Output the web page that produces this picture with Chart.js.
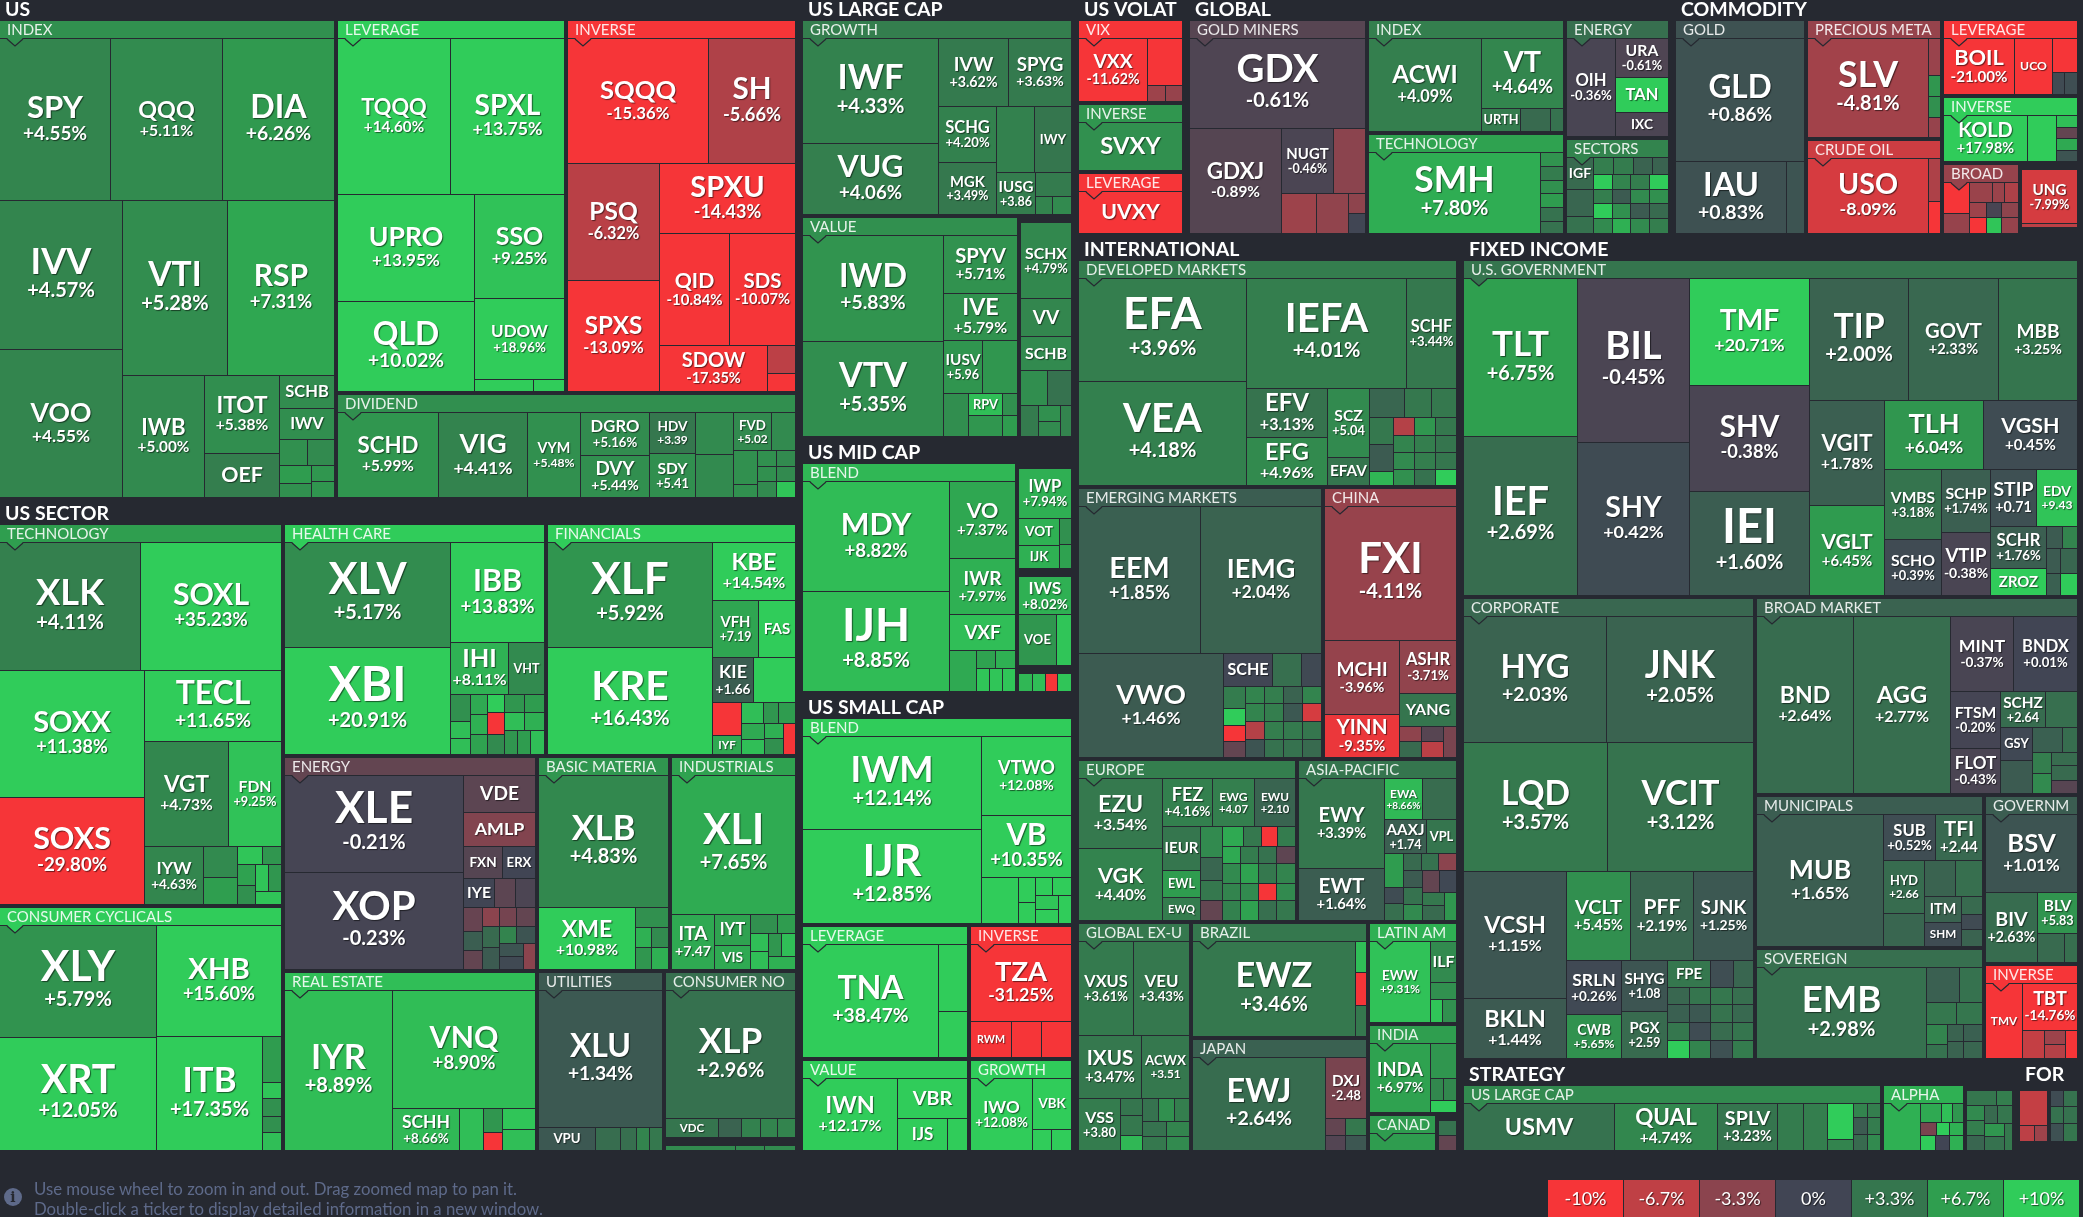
<!DOCTYPE html>
<html>
<head>
<meta charset="utf-8">
<title>ETF map</title>
<script src="https://cdn.jsdelivr.net/npm/chart.js@4/dist/chart.umd.js"></script>
<style>
  html, body { margin: 0; padding: 0; background: #262931; overflow: hidden; }
  #page { position: relative; width: 2083px; height: 1217px; font-family: 'Lato', sans-serif; }
  #map { position: absolute; left: 0; top: 0; }
  #note { position: absolute; left: 34px; top: 1179px; color: #5e6a8a; font-size: 16.75px; line-height: 20px; white-space: nowrap; }
  #info { position: absolute; left: 4px; top: 1188px; width: 18px; height: 18px; border-radius: 50%; background: #5e6a8a; color: #262931; font: bold 14px/18px 'DejaVu Serif', serif; text-align: center; }
  #scale { position: absolute; left: 1548px; top: 1180px; display: flex; gap: 1px; }
  #scale div { width: 75px; height: 37px; line-height: 37px; text-align: center; color: #fff; font-size: 18px; text-shadow: 1px 1px 1px rgba(0,0,0,.6); }
</style>
</head>
<body>
<div id="page">
  <canvas id="map" width="2083" height="1217"></canvas>
  <div id="info">i</div>
  <div id="note">Use mouse wheel to zoom in and out. Drag zoomed map to pan it.<br>Double-click a ticker to display detailed information in a new window.</div>
  <div id="scale"></div>
</div>
<script>
// =========================================
//  DATA
//  weights = cell area, strips = squarify rows
//  (n > 0: n cells in a row on top, n < 0: n cells in a column on the left)
//  '' ticker = cell without a label, null change = empty spot
// =========================================

const scaleValues = [-10, -6.7, -3.3, 0, 3.3, 6.7, 10];
const scaleLabels = ['-10%', '-6.7%', '-3.3%', '0%', '+3.3%', '+6.7%', '+10%'];
const scaleColors = ['#f63538', '#bf4045', '#8b444e', '#414554', '#35764e', '#2f9e4f', '#30cc5a'];

// tickers shown without the change line, or with the change but no percent sign
const tickerOnly = ['TAN','IXC','URTH','IWY','SVXY','UVXY','OEF','VV','SCHB','IWV','VOT','IJK','VOE','VXF','FAS','VHT','AMLP','VDE','FXN','ERX','IYE','IYF','VPU','VDC','VBR','IJS','VBK','RWM','TMV','UCO','RPV','IGF','SCHE','EFAV','IEUR','EWL','EWQ','VPL','ILF','YANG','FPE','ITM','SHM','GSY','ZROZ','USMV','IYT','VIS'];
const noPercent = ['HDV','SDY','FVD','IUSG','IUSV','KIE','VFH','ITA','SCZ','EWG','EWU','ACWX','VSS','AAXJ','EDV','STIP','SHYG','PGX','SCHZ','TFI','HYD','BLV','DXJ'];

// ---- US ----
const usIndexTickers = ['SPY','QQQ','DIA','IVV','VOO','VTI','RSP','IWB','ITOT','OEF','SCHB','IWV','','','','','',''];
const usIndexChanges = [4.55,5.11,6.26,4.57,4.55,5.28,7.31,5.00,5.38,4.0,5.2,5.3,5.5,5,6.5,5.5,6,6];
const usIndexWeights = [180,181,181,183,181,183,186,100,58.5,33,18,17,7.3,7,5.6,4.3,3.6,3.8];
const usIndexStrips = [3,-2,2,-1,-2,1,1,2,-2,-2];

const usLeverageTickers = ['TQQQ','SPXL','UPRO','QLD','SSO','UDOW','',''];
const usLeverageChanges = [14.60,13.75,13.95,10.02,9.25,18.96,10,10];
const usLeverageWeights = [176,179,146,124,93,73,7,3.8];
const usLeverageStrips = [2,-2,1,1,-1,-1];

const usInverseTickers = ['SQQQ','SH','PSQ','SPXS','SPXU','QID','SDS','SDOW','',''];
const usInverseChanges = [-15.36,-5.66,-6.32,-13.09,-14.43,-10.84,-10.07,-17.35,-6.5,-12];
const usInverseWeights = [175,108,106.5,101,95,78.4,74,49.7,7.8,5];
const usInverseStrips = [2,-2,1,2,-1,1,1];

const usDividendTickers = ['SCHD','VIG','VYM','DGRO','DVY','HDV','SDY','','','FVD','','','','','','','','',''];
const usDividendChanges = [5.99,4.41,5.48,5.16,5.44,3.39,5.41,5,5,5.02,5,5.5,5.5,5.5,5.5,5,5,5,9.5];
const usDividendWeights = [84.8,74,44.5,29,28,19,20,15.6,16.3,14.4,8.9,7.8,3,2.9,2.9,2.9,2.9,2.9,2.9];
const usDividendStrips = [-1,-1,-1,-2,-2,-2,2,-2,-3,-3];

// ---- US SECTOR ----
const techTickers = ['XLK','SOXL','SOXX','SOXS','TECL','VGT','FDN','IYW','','','','','','','','',''];
const techChanges = [4.11,35.23,11.38,-29.80,11.65,4.73,9.25,4.63,5,6.7,9.5,6,7,5.5,9.5,6,9.5];
const techWeights = [179,179,183,153,96.6,88,55,34,10.5,9.2,4.5,3.6,3.8,3.4,3.4,3.6,3.5];
const techStrips = [2,-2,1,2,-1,-2,2,-2,2,1];

const cyclicalTickers = ['XLY','XRT','XHB','ITB','','','','',''];
const cyclicalChanges = [5.79,12.05,15.60,17.35,6.5,9.5,5.5,5.5,9];
const cyclicalWeights = [176,176,137.5,120,9,3.2,3.4,3.2,3.4];
const cyclicalStrips = [-2,1,-1,-5];

const healthTickers = ['XLV','XBI','IBB','IHI','VHT','','','','','','','','','','','','','',''];
const healthChanges = [5.17,20.91,13.83,8.11,5,5.5,9,9,7.5,8,7,10,-12,5,6,6.5,9,8,6,6.5,9];
const healthWeights = [172.7,174.4,93.5,29.6,18.6,5.4,3.6,3.2,3.4,3.4,3.4,3.1,3.6,3.4,3.6,3.6,3.4,3.4,3.1,3.1,3.4];
const healthStrips = [-2,1,2,-3,-3,-3,2,2,3];

const financeTickers = ['XLF','KRE','KBE','VFH','FAS','KIE','','','IYF','','','','','','','',''];
const financeChanges = [5.92,16.43,14.54,7.19,12,1.66,10,-12,7.5,9,6,6.5,7.5,9,8,5.5,-12];
const financeWeights = [172,174,48,26,20.4,18.5,18.5,9.5,5.3,4.6,3.2,3.6,3.5,3.5,2.8,3.2,3.6];
const financeStrips = [-2,1,2,2,-2,3,-2,-2,-1];

const sectorEnergyTickers = ['XLE','XOP','VDE','AMLP','FXN','ERX','IYE'];
const sectorEnergyChanges = [-0.21,-0.23,-1.2,-2.9,-0.9,0,0,-1.2,-0.5,-1.7,1.7,-1.5,-3.3,2.5,1.5,-2.3,-1.5,4.5,1,1,0.3,-3.3];
const sectorEnergyWeights = [172,172,26.6,23.8,12.5,10.6,8.7,5.9,5.6,4.3,3.6,3.4,3.2,3.7,3.7,3.2,3.6,3,3.2,3.1,3.1,3.1];
const sectorEnergyStrips = [-2,1,1,2,3,-3,-3,2,2,-2,-1];

const materialsTickers = ['XLB','XME'];
const materialsChanges = [4.83,10.98,5.5,8,5,6,8];
const materialsWeights = [170,59.5,6.5,3.2,3.4,3.4,3.6];
const materialsStrips = [1,-1,1,2,2];

const industrialsTickers = ['XLI','ITA','IYT','VIS'];
const industrialsChanges = [7.65,7.47,7,7.5,5.5,6.5,9,9,6,9,8];
const industrialsWeights = [170,23.5,10.9,8.7,5,3.4,3.2,3.2,2.9,3.3,3.4];
const industrialsStrips = [1,-1,-2,2,-2,2,1];

const realEstateTickers = ['IYR','VNQ','SCHH'];
const realEstateChanges = [8.89,8.90,8.66,9,6,-12,9.5,9];
const realEstateWeights = [170,166.7,27.5,10,4.4,3.4,6.7,6.7];
const realEstateStrips = [-1,1,-1,-1,-2,-2];

const utilitiesTickers = ['XLU','VPU'];
const utilitiesChanges = [1.34,1.3,2.7,2.8,4.5,3.5];
const utilitiesWeights = [168.6,12.9,5.8,3.5,3,3];
const utilitiesStrips = [1,5];

const staplesTickers = ['XLP','VDC'];
const staplesChanges = [2.96,3.2,2,4.2,4.5,4.5];
const staplesWeights = [165,9.9,4.2,3.6,3.2,3.4];
const staplesStrips = [1,5];

const commTickers = [];
const commChanges = [5,5,5];
const commWeights = [3.4,1.4,1.5];
const commStrips = [3];

// ---- US LARGE CAP ----
const growthTickers = ['IWF','VUG','IVW','SPYG','SCHG','MGK','','IWY','IUSG'];
const growthChanges = [4.33,4.06,3.62,3.63,4.20,3.49,4.2,3.3,3.86,3.7,4.5,5];
const growthWeights = [142.8,96.6,46.9,42.9,33,30,25,24.4,16.2,8.6,3.2,3.5];
const growthStrips = [-2,2,-2,2,-1,1,2];

const valueTickers = ['IWD','VTV','SPYV','IVE','IUSV','','','RPV'];
const valueChanges = [5.83,5.35,5.71,5.79,5.96,6,5.3,9,5.5,6,6.5];
const valueWeights = [149.5,134,42.8,35,21,18.8,10.8,7.5,3.3,7.1,3.2];
const valueStrips = [-2,1,1,2,-1,2,2];

const largeBlendTickers = ['SCHX','VV','SCHB'];
const largeBlendChanges = [4.79,4.7,5,5.3,3,3.7,5.5,5,4.5];
const largeBlendWeights = [37.5,19,16.5,9.1,8.4,5.3,3.3,3.3,3.4];
const largeBlendStrips = [1,1,1,2,-1,-2,-1];

// ---- US MID CAP ----
const midBlendTickers = ['MDY','IJH','VO','IWR','VXF'];
const midBlendChanges = [8.82,8.85,7.37,7.97,9,7.5,7,8,9.5,9.5,9.5];
const midBlendWeights = [161.7,147,50.8,37,23.8,10.7,3.4,3.4,3.1,3.1,3.1];
const midBlendStrips = [-2,1,1,1,-1,2,3];

const midSideATickers = ['IWP','VOT','IJK'];
const midSideAChanges = [7.94,8,8,5.5,7];
const midSideAWeights = [25.5,10.8,9.2,3.2,2.8];
const midSideAStrips = [1,-2,-2];

const midSideBTickers = ['IWS','VOE'];
const midSideBChanges = [8.02,6,9.5];
const midSideBWeights = [19.8,18.5,7.5];
const midSideBStrips = [1,-1,-1];

const midSideCTickers = [];
const midSideCChanges = [8.5,9,-12,9.5];
const midSideCWeights = [2.2,2,2,2.2];
const midSideCStrips = [4];

// ---- US SMALL CAP ----
const smallBlendTickers = ['IWM','IJR','VTWO','VB'];
const smallBlendChanges = [12.14,12.85,12.08,10.35,11,11,11,10,10.5,9.5,10,10];
const smallBlendWeights = [166.5,168,71.9,55.5,17.5,4.2,3.4,3.2,3.4,3.2,3.4,3.6];
const smallBlendStrips = [-2,1,1,-1,-2,2,-2,-1];

const smallLeverageTickers = ['TNA'];
const smallLeverageChanges = [38.47,10,10];
const smallLeverageWeights = [153.7,19.4,13.3];
const smallLeverageStrips = [-1,-2];

const smallInverseTickers = ['TZA','RWM'];
const smallInverseChanges = [-31.25,-13,-13,-13];
const smallInverseWeights = [77,14.8,10.8,10.8];
const smallInverseStrips = [1,3];

const smallValueTickers = ['IWN','VBR','IJS'];
const smallValueChanges = [12.17,11.5,12,11];
const smallValueWeights = [67.5,27.7,16,6.7];
const smallValueStrips = [-1,1,2];

const smallGrowthTickers = ['IWO','VBK'];
const smallGrowthChanges = [12.08,11.5,11,11];
const smallGrowthWeights = [43.3,19.5,4,4.2];
const smallGrowthStrips = [-1,1,2];

// ---- US VOLAT ----
const vixTickers = ['VXX'];
const vixChanges = [-11.62,-11,-4.5,-4];
const vixWeights = [44,16.5,2.8,2.8];
const vixStrips = [-1,1,2];

const volInverseTickers = ['SVXY'];
const volInverseChanges = [5.5];
const volInverseWeights = [1];
const volInverseStrips = [1];

const volLeverageTickers = ['UVXY'];
const volLeverageChanges = [-20];
const volLeverageWeights = [1];
const volLeverageStrips = [1];

// ---- GLOBAL ----
const goldMinersTickers = ['GDX','GDXJ','NUGT'];
const goldMinersChanges = [-0.61,-0.89,-0.46,-3.3,-4.5,-3.7,-3.5,0.1];
const goldMinersWeights = [158,95.5,33.3,21,14,13.2,3.4,3.4];
const goldMinersStrips = [1,-1,2,-1,-1,-2];

const globalIndexTickers = ['ACWI','VT','URTH'];
const globalIndexChanges = [4.09,4.64,3.8,2.5,3];
const globalIndexWeights = [104,57.3,9.2,6.9,3];
const globalIndexStrips = [-1,1,-1,-1,-1];

const globalTechTickers = ['SMH'];
const globalTechChanges = [7.80,5.8,3.8,5.5,6.5,3,3];
const globalTechWeights = [138.5,3.2,3.1,3,3.2,3.2,2.6];
const globalTechStrips = [-1,-6];

const globalEnergyTickers = ['OIH','URA','TAN','IXC'];
const globalEnergyChanges = [-0.36,-0.61,10.5,-0.5];
const globalEnergyWeights = [47.5,20.7,18,12.7];
const globalEnergyStrips = [-1,-3];

const globalSectorsTickers = ['IGF'];
const globalSectorsChanges = [2.5,2.2,3,4,3.8,2,2,10,4,10,5,4.5,1.5,5.5,8,4,5,1.5,5,11,5.5,2.5,4];
const globalSectorsWeights = [8.6,7.3,4.6,3.4,3.2,3.2,2.7,2.8,2.8,2.8,2.8,2.7,2.7,2.7,2.7,2.8,2.8,2.8,2.8,2.7,2.7,2.7,2.7];
const globalSectorsStrips = [-3,4,-4,-4,-4,-4];

// ---- COMMODITY ----
const goldTickers = ['GLD','IAU'];
const goldChanges = [0.86,0.83,1];
const goldWeights = [157.4,79,13];
const goldStrips = [1,-1,-1];

const preciousTickers = ['SLV'];
const preciousChanges = [-4.81,-4.2,6,5.5,-4];
const preciousWeights = [118,4.4,2.5,2.5,2.4];
const preciousStrips = [-1,-4];

const crudeTickers = ['USO'];
const crudeChanges = [-8.09,-5.5,-11];
const crudeWeights = [89,5.2,3.8];
const crudeStrips = [-1,-2];

const commLeverageTickers = ['BOIL','UCO'];
const commLeverageChanges = [-21.00,-14,-13,0.4,0.6];
const commLeverageWeights = [39,20.9,8.2,2.6,2.9];
const commLeverageStrips = [-1,-1,1,2];

const commInverseTickers = ['KOLD'];
const commInverseChanges = [17.98,10.5,9,-1.5,7.5,1];
const commInverseWeights = [39.5,13.2,2.5,2.5,2.5,2.5];
const commInverseStrips = [-1,-1,-4];

const broadCommTickers = [];
const broadCommChanges = [-12,-4,-4.3,-4.3,-5.5,-4.5,-0.3,-3.5,-12,9.5,-4];
const broadCommWeights = [8.3,5.2,4.4,2.4,2.8,2.6,2.4,2.6,2.6,2.4,2.6];
const broadCommStrips = [-2,3,3,3];

const ungTickers = ['UNG'];
const ungChanges = [-7.99,-6.5,null];
const ungWeights = [29,2.2,3.3];
const ungStrips = [1,1,1];

// ---- INTERNATIONAL ----
const developedTickers = ['EFA','VEA','IEFA','SCHF','EFV','EFG','SCZ','EFAV'];
const developedChanges = [3.96,4.18,4.01,3.44,3.13,4.96,5.04,3.2,2.2,3.5,3.5,3.5,1.5,8.5,-6,4.5,5,5.5,6,4,4,3,3.5,3.2,3.3,10];
const developedWeights = [173,174.7,175.5,54.5,39.7,38.9,29,11.8,10.5,7.8,7.5,6.5,6.5,3.4,3.8,3.4,3.6,3.4,3.8,3.4,3.6,3.4,3.8,3.4,3.6,3.4];
const developedStrips = [-2,2,-2,-2,3,-3,-4,-4,-4];

const emergingTickers = ['EEM','IEMG','VWO','SCHE'];
const emergingChanges = [1.85,2.04,1.46,0.1,2.8,0.3,3.8,10.5,-10,-1.5,4.5,4.5,-6,1,4,4,4,3,2,1.3,3.6,3,4.5,-8,3.3,2.5];
const emergingWeights = [178,178,150,16,9.6,6.7,5,3.7,3.7,3.5,3.4,3.4,3.4,3.4,3.4,3.4,3.4,3.4,3.4,3.4,3.4,3.4,3.4,3.4,3.4,3.4];
const emergingStrips = [2,-1,3,-4,-4,-4,-4,-4];

const chinaTickers = ['FXI','MCHI','YINN','ASHR','YANG'];
const chinaChanges = [-4.11,-3.96,-9.35,-3.71,3.2,-3.5,2.5,-1,-6.5,-2.5];
const chinaWeights = [177,55.5,32,30.7,19,3.3,3.5,3.3,3.5,4];
const chinaStrips = [1,-2,1,1,-2,-2,-1];

const europeTickers = ['EZU','VGK','FEZ','EWG','EWU','IEUR','EWL','EWQ'];
const europeChanges = [3.54,4.40,4.16,4.07,2.10,3.3,6.5,3.8,5,2.2,3.5,-1.5,7.5,3.5,-11,3.8,7.5,5,4.5,4.2,3.8,7,5,7,3,3.5,-11,2.8,-1.3,4.5,5,3.5];
const europeWeights = [58.8,61.3,24,20,19.7,16.6,10,8.5,6.8,5.3,4.4,4.4,4.2,3.6,3.2,3.6,3.1,3.6,3.2,3.6,3.1,3.6,3.2,3.6,3.1,3.6,3.2,3.6,3.1,3.6,3.2,3.6];
const europeStrips = [-2,3,-3,-4,4,-4,-4,-4,-4];

const asiaTickers = ['EWY','EWT','EWA','','AAXJ','VPL'];
const asiaChanges = [3.39,1.64,8.66,2.6,1.74,3.2,6.5,0.5,2.8,2.5,3,-3.3,1.5,3,5,-1.5,0.2,3.5,2.5,6];
const asiaWeights = [77.4,44.2,15.2,14,13.9,10.2,6.5,3,3.2,3.1,2.9,3.1,3,3.2,2.9,3.6,3.6,3,3.2,3.4];
const asiaStrips = [-2,2,2,-3,3,-3,2,-2,-1];

const globalExTickers = ['VXUS','VEU','IXUS','ACWX','VSS'];
const globalExChanges = [3.61,3.43,3.47,3.51,3.80,3.2,3.5,8.5,3,5.5,4,3,4.5,3.5,5];
const globalExWeights = [51,52,39.7,30,21.8,3.7,4.4,3.3,3.5,3.5,3.3,3.6,3.4,3.3,3.2];
const globalExStrips = [2,2,-1,-3,3,2,2];

const brazilTickers = ['EWZ'];
const brazilChanges = [3.46,9,-11,3.5];
const brazilWeights = [154,3.4,3.5,3.4];
const brazilStrips = [-1,-3];

const japanTickers = ['EWJ','DXJ'];
const japanChanges = [2.64,-2.48,-1.5,3.5,-0.8,1.2];
const japanWeights = [123,24.6,3.4,3.6,3,3.2];
const japanStrips = [-1,1,2,2];

const latinTickers = ['EWW','ILF'];
const latinChanges = [9.31,5,5.5,9.5,5.5];
const latinWeights = [49.4,10.4,4.4,2.8,3.2];
const latinStrips = [-1,1,1,2];

const indiaTickers = ['INDA'];
const indiaChanges = [6.97,6,4.8,4.8,10];
const indiaWeights = [42.7,9.1,3,3,3.1];
const indiaStrips = [-1,1,2,1];

const canadaTickers = [];
const canadaChanges = [6.5];
const canadaWeights = [1];
const canadaStrips = [1];

const intlSideTickers = [];
const intlSideChanges = [3,-1.5];
const intlSideWeights = [1,1];
const intlSideStrips = [-2];

// ---- FIXED INCOME ----
const govTickers = ['TLT','IEF','BIL','SHY','TMF','SHV','IEI','TIP','GOVT','MBB','VGIT','VGLT','TLH','VGSH','VMBS','SCHO','SCHP','VTIP','STIP','EDV','SCHR','ZROZ'];
const govChanges = [6.75,2.69,-0.45,0.42,20.71,-0.38,1.60,2.00,2.33,3.25,1.78,6.45,6.04,0.45,3.18,0.39,1.74,-0.38,0.71,9.43,1.76,10,1.5,4.5,1.5,2.2,1.8,10];
const govWeights = [180,181,183.7,171,128,127,125,120,110,96.4,77.7,66.6,68,65,40,32,31,31,26,23.4,23,14.8,3.6,3.2,3.6,4.1,3.3,3.7];
const govStrips = [-2,-2,-3,3,-2,2,-2,-2,2,-2,2,2,2];

const corporateTickers = ['HYG','JNK','LQD','VCIT','VCSH','BKLN','VCLT','PFF','SJNK','SRLN','CWB','SHYG','PGX','FPE'];
const corporateChanges = [2.03,2.05,3.57,3.12,1.15,1.44,5.45,2.19,1.25,0.26,5.65,1.08,2.59,3.4,0.6,2.2,2.3,1.8,3.4,10.5,3.2,1.3,0.5,4.5,3.4,3.1,2.6,0.8,2.8,2.4,3.2,3.8];
const corporateWeights = [180,184,184.5,188,131,62,56.7,55.8,54,29,24,23.5,22,11.3,6,5.4,3.8,3.8,3.8,3.8,3.8,3.8,3.8,3.8,3.8,3.8,3.8,3.8,3.8,3.8,3.8,3.8];
const corporateStrips = [2,2,-2,3,-2,-2,3,-4,-4,-4,-4];

const broadMarketTickers = ['BND','AGG','MINT','BNDX','FTSM','FLOT','SCHZ','','GSY'];
const broadMarketChanges = [2.64,2.77,-0.37,0.01,-0.20,-0.43,2.64,2.8,0.2,1.5,1.8,2.7,4,5,2.6,2.5,-1];
const broadMarketWeights = [171.7,171.7,47,48,28.5,22.5,16,11.5,10.6,10.6,7.5,3.8,3.8,3.6,3.5,3.8,3.5];
const broadMarketStrips = [-1,-1,2,-2,2,-2,2,-2,-3];

const muniTickers = ['MUB','SUB','TFI','HYD','','','','ITM','SHM'];
const muniChanges = [1.65,0.52,2.44,2.66,2.2,2,2.8,2,0.5,2.5,0.4,2];
const muniWeights = [166,24,21.6,21.3,13.5,11.2,9.7,9.3,8.9,3.6,3.2,3.6];
const muniStrips = [-1,2,-2,2,-2,-3];

const sovereignTickers = ['EMB'];
const sovereignChanges = [2.98,1.8,3,3.4,3.3,4.5,3,2,1.8,2,2.2];
const sovereignWeights = [153,11.5,8,6.3,5.5,4.2,2.8,2.7,3.2,2.7,3.2];
const sovereignStrips = [-1,2,2,-2,2,2];

const governmentTickers = ['BSV','BIV','BLV'];
const governmentChanges = [1.01,2.63,5.83,2.5,2.8];
const governmentWeights = [71.8,36.9,16.8,7.8,3.8];
const governmentStrips = [1,-1,1,2];

const bondInverseTickers = ['TMV','TBT'];
const bondInverseChanges = [-13,-14.76,-7,-4.5,-6,-10];
const bondInverseWeights = [27.4,25.3,6.2,2.9,2.9,3.4];
const bondInverseStrips = [-1,1,-1,-2,-1];

// ---- STRATEGY ----
const strategyLargeTickers = ['USMV','QUAL','SPLV'];
const strategyLargeChanges = [3,4.74,3.23,3.8,4,10.5,4.5,4.5,4,1.5,3.8,2.5,5];
const strategyLargeWeights = [70.5,48.4,28.2,12.2,11.3,9.1,2.9,2,1.8,2.4,2.2,2.2,2.1];
const strategyLargeStrips = [-1,-1,-1,-1,-1,-2,2,2,2];

const alphaTickers = [];
const alphaChanges = [8,7.5,9,6,-2.5,10,8,10,0,8];
const alphaWeights = [17,4,1.9,2.1,2,1.7,1.8,2.2,2,2.1];
const alphaStrips = [-1,3,3,3];

const strategySideTickers = [];
const strategySideChanges = [3.3,4,5,4,2.2,2.5,3.3,6,3,3.5];
const strategySideWeights = [4.4,2.4,2.4,2.6,2.6,2.2,2.4,2.6,2.6,2];
const strategySideStrips = [2,-3,2,-2,-1];

// ---- FOR ----
const forLeftTickers = [];
const forLeftChanges = [-7,-6.5,-4.5,null];
const forLeftWeights = [9.5,2.4,2.1,2.5];
const forLeftStrips = [1,2,1];

const forRightTickers = [];
const forRightChanges = [0.5,3,3,3,0.8,3.3,null];
const forRightWeights = [2.1,2.1,2.1,2.1,2.3,2.3,2.4];
const forRightStrips = [2,2,2,1];

// ---- GROUPS: title, header change, then the four lists ----
const group = (title, change, tickers, changes, weights, strips) => ({ title, change, tickers, changes, weights, strips });

const usGroups = [
  group('INDEX', 5.5, usIndexTickers, usIndexChanges, usIndexWeights, usIndexStrips),
  group('LEVERAGE', 12, usLeverageTickers, usLeverageChanges, usLeverageWeights, usLeverageStrips),
  group('INVERSE', -10, usInverseTickers, usInverseChanges, usInverseWeights, usInverseStrips),
  group('DIVIDEND', 5.4, usDividendTickers, usDividendChanges, usDividendWeights, usDividendStrips),
];
const usWeights = [1622, 862, 862, 489];
const usStrips = [-1, 2, 1];

const sectorGroups = [
  group('TECHNOLOGY', 6.7, techTickers, techChanges, techWeights, techStrips),
  group('CONSUMER CYCLICALS', 10, cyclicalTickers, cyclicalChanges, cyclicalWeights, cyclicalStrips),
  group('HEALTH CARE', 11, healthTickers, healthChanges, healthWeights, healthStrips),
  group('FINANCIALS', 12, financeTickers, financeChanges, financeWeights, financeStrips),
  group('ENERGY', -1.5, sectorEnergyTickers, sectorEnergyChanges, sectorEnergyWeights, sectorEnergyStrips),
  group('BASIC MATERIA', 6, materialsTickers, materialsChanges, materialsWeights, materialsStrips),
  group('INDUSTRIALS', 7, industrialsTickers, industrialsChanges, industrialsWeights, industrialsStrips),
  group('REAL ESTATE', 9, realEstateTickers, realEstateChanges, realEstateWeights, realEstateStrips),
  group('UTILITIES', 1.4, utilitiesTickers, utilitiesChanges, utilitiesWeights, utilitiesStrips),
  group('CONSUMER NO', 2.8, staplesTickers, staplesChanges, staplesWeights, staplesStrips),
  group('', 5, commTickers, commChanges, commWeights, commStrips),
];
const sectorWeights = [1093, 702, 612, 585, 545, 286, 273, 459, 230, 223, 17.3];
const sectorStrips = [-2, 2, 3, -1, -1, 1, 1];

const largeGroups = [
  group('GROWTH', 4, growthTickers, growthChanges, growthWeights, growthStrips),
  group('VALUE', 5.5, valueTickers, valueChanges, valueWeights, valueStrips),
  group('', 4.7, largeBlendTickers, largeBlendChanges, largeBlendWeights, largeBlendStrips),
];
const largeWeights = [538, 486, 120];
const largeStrips = [1, -1, -1];

const midGroups = [
  group('BLEND', 8.5, midBlendTickers, midBlendChanges, midBlendWeights, midBlendStrips),
  group('', 8, midSideATickers, midSideAChanges, midSideAWeights, midSideAStrips),
  group('', 8, midSideBTickers, midSideBChanges, midSideBWeights, midSideBStrips),
  group('', 8, midSideCTickers, midSideCChanges, midSideCWeights, midSideCStrips),
];
const midWeights = [501, 60.5, 54.3, 14.6];
const midStrips = [-1, 1, 1, 1];

const smallGroups = [
  group('BLEND', 12, smallBlendTickers, smallBlendChanges, smallBlendWeights, smallBlendStrips),
  group('LEVERAGE', 12, smallLeverageTickers, smallLeverageChanges, smallLeverageWeights, smallLeverageStrips),
  group('INVERSE', -14, smallInverseTickers, smallInverseChanges, smallInverseWeights, smallInverseStrips),
  group('VALUE', 12, smallValueTickers, smallValueChanges, smallValueWeights, smallValueStrips),
  group('GROWTH', 12, smallGrowthTickers, smallGrowthChanges, smallGrowthWeights, smallGrowthStrips),
];
const smallWeights = [568, 226.5, 139.4, 157, 96.7];
const smallStrips = [1, 2, 2];

const volGroups = [
  group('VIX', -11, vixTickers, vixChanges, vixWeights, vixStrips),
  group('INVERSE', 6, volInverseTickers, volInverseChanges, volInverseWeights, volInverseStrips),
  group('LEVERAGE', -15, volLeverageTickers, volLeverageChanges, volLeverageWeights, volLeverageStrips),
];
const volWeights = [90, 74, 67.4];
const volStrips = [1, 1, 1];

const globalGroups = [
  group('GOLD MINERS', -1, goldMinersTickers, goldMinersChanges, goldMinersWeights, goldMinersStrips),
  group('INDEX', 4.1, globalIndexTickers, globalIndexChanges, globalIndexWeights, globalIndexStrips),
  group('TECHNOLOGY', 7, globalTechTickers, globalTechChanges, globalTechWeights, globalTechStrips),
  group('ENERGY', 2.8, globalEnergyTickers, globalEnergyChanges, globalEnergyWeights, globalEnergyStrips),
  group('SECTORS', 4.5, globalSectorsTickers, globalSectorsChanges, globalSectorsWeights, globalSectorsStrips),
];
const globalWeights = [389, 226, 202, 125, 102];
const globalStrips = [-1, -2, -2];

const commodityGroups = [
  group('GOLD', 0.9, goldTickers, goldChanges, goldWeights, goldStrips),
  group('PRECIOUS META', -4, preciousTickers, preciousChanges, preciousWeights, preciousStrips),
  group('CRUDE OIL', -7.5, crudeTickers, crudeChanges, crudeWeights, crudeStrips),
  group('LEVERAGE', -13, commLeverageTickers, commLeverageChanges, commLeverageWeights, commLeverageStrips),
  group('INVERSE', 11, commInverseTickers, commInverseChanges, commInverseWeights, commInverseStrips),
  group('BROAD', -4, broadCommTickers, broadCommChanges, broadCommWeights, broadCommStrips),
  group('', -6, ungTickers, ungChanges, ungWeights, ungStrips),
];
const commodityWeights = [285, 163, 130.6, 105.5, 91.8, 56, 42.5];
const commodityStrips = [-1, -2, 1, 1, 2];

const intlGroups = [
  group('DEVELOPED MARKETS', 3.9, developedTickers, developedChanges, developedWeights, developedStrips),
  group('EMERGING MARKETS', 1.6, emergingTickers, emergingChanges, emergingWeights, emergingStrips),
  group('CHINA', -4, chinaTickers, chinaChanges, chinaWeights, chinaStrips),
  group('EUROPE', 4, europeTickers, europeChanges, europeWeights, europeStrips),
  group('ASIA-PACIFIC', 3.2, asiaTickers, asiaChanges, asiaWeights, asiaStrips),
  group('GLOBAL EX-U', 3.5, globalExTickers, globalExChanges, globalExWeights, globalExStrips),
  group('BRAZIL', 3.5, brazilTickers, brazilChanges, brazilWeights, brazilStrips),
  group('JAPAN', 1.9, japanTickers, japanChanges, japanWeights, japanStrips),
  group('LATIN AM', 8, latinTickers, latinChanges, latinWeights, latinStrips),
  group('INDIA', 6.7, indiaTickers, indiaChanges, indiaWeights, indiaStrips),
  group('CANAD', 6.5, canadaTickers, canadaChanges, canadaWeights, canadaStrips),
  group('', 2, intlSideTickers, intlSideChanges, intlSideWeights, intlSideStrips),
];
const intlWeights = [871, 672, 367, 359, 264, 262, 206.5, 203, 92, 81, 26, 8];
const intlStrips = [1, 2, 2, -1, -2, 1, 1, 2];

const fixedGroups = [
  group('U.S. GOVERNMENT', 3.2, govTickers, govChanges, govWeights, govStrips),
  group('CORPORATE', 2.3, corporateTickers, corporateChanges, corporateWeights, corporateStrips),
  group('BROAD MARKET', 2, broadMarketTickers, broadMarketChanges, broadMarketWeights, broadMarketStrips),
  group('MUNICIPALS', 1.6, muniTickers, muniChanges, muniWeights, muniStrips),
  group('SOVEREIGN', 2.8, sovereignTickers, sovereignChanges, sovereignWeights, sovereignStrips),
  group('GOVERNM', 1.6, governmentTickers, governmentChanges, governmentWeights, governmentStrips),
  group('INVERSE', -12, bondInverseTickers, bondInverseChanges, bondInverseWeights, bondInverseStrips),
];
const fixedWeights = [2085, 1357, 641.5, 350, 256.5, 160.5, 91];
const fixedStrips = [1, -1, 1, -2, -2];

const strategyGroups = [
  group('US LARGE CAP', 5, strategyLargeTickers, strategyLargeChanges, strategyLargeWeights, strategyLargeStrips),
  group('ALPHA', 8, alphaTickers, alphaChanges, alphaWeights, alphaStrips),
  group('', 4, strategySideTickers, strategySideChanges, strategySideWeights, strategySideStrips),
];
const strategyWeights = [285.6, 56.4, 33.3];
const strategyStrips = [-1, -1, -1];

const forGroups = [
  group('', -6, forLeftTickers, forLeftChanges, forLeftWeights, forLeftStrips),
  group('', 2, forRightTickers, forRightChanges, forRightWeights, forRightStrips),
];
const forWeights = [21, 20.4];
const forStrips = [-1, -1];

// ---- TOP LEVEL ----
const categoryTitles = ['US', 'US SECTOR', 'US LARGE CAP', 'US MID CAP', 'US SMALL CAP', 'US VOLAT', 'GLOBAL', 'COMMODITY', 'INTERNATIONAL', 'FIXED INCOME', 'STRATEGY', 'FOR'];
const categoryWeights = [4047, 5244, 1223, 704, 1267, 266, 1166, 982, 3530, 5123, 512, 60];
const categoryStrips = [-2, -3, 3, -1, 1, -1, -1];
const categoryGroups = [usGroups, sectorGroups, largeGroups, midGroups, smallGroups, volGroups, globalGroups, commodityGroups, intlGroups, fixedGroups, strategyGroups, forGroups];
const categoryGroupWeights = [usWeights, sectorWeights, largeWeights, midWeights, smallWeights, volWeights, globalWeights, commodityWeights, intlWeights, fixedWeights, strategyWeights, forWeights];
const categoryGroupStrips = [usStrips, sectorStrips, largeStrips, midStrips, smallStrips, volStrips, globalStrips, commodityStrips, intlStrips, fixedStrips, strategyStrips, forStrips];

// =========================================
//  LAYOUT (map units, the chart scales turn them into pixels)
// =========================================
const CATEGORY_HEADER = 24;
const CATEGORY_PAD = 4;
const GROUP_HEADER = 18;
const GROUP_STUB = 5;
const GROUP_GAP = 4;

function layoutStrips(rect, weights, strips) {
  const out = [];
  let { x, y, w, h } = rect;
  let total = weights.reduce((a, b) => a + b, 0);
  let i = 0;
  for (const strip of strips) {
    const part = weights.slice(i, i + Math.abs(strip));
    const sum = part.reduce((a, b) => a + b, 0);
    if (strip > 0) {
      const rowH = h * sum / total;
      let cx = x;
      part.forEach(v => { const cw = w * v / sum; out.push({ x: cx, y, w: cw, h: rowH }); cx += cw; });
      y += rowH; h -= rowH;
    } else {
      const colW = w * sum / total;
      let cy = y;
      part.forEach(v => { const ch = h * v / sum; out.push({ x, y: cy, w: colW, h: ch }); cy += ch; });
      x += colW; w -= colW;
    }
    total -= sum;
    i += part.length;
  }
  return out;
}

const cellPoints = [];
const headerPoints = [];
const titlePoints = [];
const span = (r, extra) => ({ x: r.x, y: r.y, x2: r.x + r.w, y2: r.y + r.h, ...extra });

layoutStrips({ x: 0, y: -3, w: 2085, h: 1157 }, categoryWeights, categoryStrips).forEach((catRect, c) => {
  titlePoints.push(span(catRect, { title: categoryTitles[c] }));
  const inner = { x: catRect.x, y: catRect.y + CATEGORY_HEADER, w: catRect.w - CATEGORY_PAD, h: catRect.h - CATEGORY_HEADER };
  layoutStrips(inner, categoryGroupWeights[c], categoryGroupStrips[c]).forEach((r, g) => {
    const grp = categoryGroups[c][g];
    const top = grp.title ? GROUP_HEADER : GROUP_STUB;
    const body = { x: r.x, y: r.y + top, w: r.w - GROUP_GAP + 1, h: r.h - top - GROUP_GAP + 1 };
    if (grp.title) headerPoints.push(span({ x: r.x, y: r.y, w: r.w - GROUP_GAP, h: GROUP_HEADER }, { title: grp.title, change: grp.change }));
    layoutStrips(body, grp.weights, grp.strips).forEach((cell, i) => {
      if (grp.changes[i] === null) return;
      cellPoints.push(span(cell, { ticker: grp.tickers[i] || '', change: grp.changes[i] }));
    });
  });
});

// =========================================
//  COLOURS + TEXT
// =========================================
function colorFor(v) {
  const hex = s => [1, 3, 5].map(i => parseInt(s.slice(i, i + 2), 16));
  if (v <= scaleValues[0]) return scaleColors[0];
  for (let i = 1; i < scaleValues.length; i++) {
    if (v <= scaleValues[i]) {
      const t = (v - scaleValues[i - 1]) / (scaleValues[i] - scaleValues[i - 1]);
      const a = hex(scaleColors[i - 1]), b = hex(scaleColors[i]);
      return `rgb(${a.map((n, k) => Math.round(n + (b[k] - n) * t)).join(',')})`;
    }
  }
  return scaleColors[scaleColors.length - 1];
}

const FONT = "Lato, sans-serif";

function textShadow(ctx, on) {
  ctx.shadowColor = on ? 'rgba(0,0,0,0.55)' : 'transparent';
  ctx.shadowOffsetX = on ? 1 : 0;
  ctx.shadowOffsetY = on ? 1 : 0;
  ctx.shadowBlur = on ? 1 : 0;
}

function changeText(ticker, v) {
  const txt = (v >= 0 ? '+' : '') + v.toFixed(2);
  return noPercent.includes(ticker) ? txt : txt + '%';
}

// how wide a ticker gets inside its cell, short tickers take less of it
function tickerTarget(ticker, w) {
  if (ticker.length >= 4) return w * 0.38 + 23;
  if (ticker.length === 3) return w * 0.40 + 12;
  return w * 0.35 + 9;
}

function drawCellLabel(ctx, ticker, change, x, y, w, h) {
  ctx.font = `bold 100px ${FONT}`;
  const unit = ctx.measureText(ticker).width / 100;
  const size = Math.min(tickerTarget(ticker, w) / unit, h * 0.42 + 4, (w - 3) / unit);
  const cx = x + w / 2, cy = y + h / 2;
  ctx.textAlign = 'center';
  ctx.textBaseline = 'middle';
  ctx.fillStyle = '#fff';
  textShadow(ctx, true);
  if (tickerOnly.includes(ticker)) {
    ctx.font = `bold ${size}px ${FONT}`;
    ctx.fillText(ticker, cx, cy);
  } else {
    const label = changeText(ticker, change);
    ctx.font = `bold 100px ${FONT}`;
    const pctUnit = ctx.measureText(label).width / 100;
    const pct = Math.min(size * 0.4 + 6.5, 20, (w - 3) / pctUnit);
    const gap = size * 0.5 + pct * 0.55;
    const ty = cy - gap * 0.45;
    ctx.font = `bold ${size}px ${FONT}`;
    ctx.fillText(ticker, cx, ty);
    ctx.font = `bold ${pct}px ${FONT}`;
    ctx.fillText(label, cx, ty + gap);
  }
  textShadow(ctx, false);
}

// =========================================
//  CHART.JS: small treemap controller + element
// =========================================
class MapCell extends Chart.Element {
  static id = 'mapcell';
  static defaults = {};

  draw(ctx) {
    const { left, top, right, bottom, kind, raw } = this;
    const x = Math.round(left), y = Math.round(top);
    const w = Math.round(right) - x, h = Math.round(bottom) - y;
    ctx.save();
    if (kind === 'cell') {
      ctx.fillStyle = colorFor(raw.change);
      ctx.fillRect(x, y, w - 1, h - 1);
      if (raw.ticker) drawCellLabel(ctx, raw.ticker, raw.change, x, y, w - 1, h - 1);
    } else if (kind === 'header') {
      const fill = colorFor(raw.change);
      ctx.fillStyle = fill;
      ctx.fillRect(x, y, w, h - 1);
      // little notch under the header bar
      ctx.beginPath();
      ctx.moveTo(x + 7, y + h - 1);
      ctx.lineTo(x + 15, y + h + 7);
      ctx.lineTo(x + 23, y + h - 1);
      ctx.closePath();
      ctx.fill();
      ctx.strokeStyle = '#262931';
      ctx.lineWidth = 1.2;
      ctx.beginPath();
      ctx.moveTo(x + 7, y + h);
      ctx.lineTo(x + 15, y + h + 7);
      ctx.lineTo(x + 23, y + h);
      ctx.stroke();
      ctx.font = `15px ${FONT}`;
      ctx.textAlign = 'left';
      ctx.textBaseline = 'middle';
      ctx.fillStyle = 'rgba(255,255,255,0.88)';
      ctx.save();
      ctx.beginPath();
      ctx.rect(x, y, w, h);
      ctx.clip();
      ctx.fillText(raw.title, x + 7, y + h / 2 + 0.5);
      ctx.restore();
    } else {
      ctx.font = `bold 19.5px ${FONT}`;
      ctx.textAlign = 'left';
      ctx.textBaseline = 'alphabetic';
      ctx.fillStyle = '#fff';
      ctx.fillText(raw.title, x + 5, y + 19);
    }
    ctx.restore();
  }
}

class MapController extends Chart.DatasetController {
  static id = 'treemap';
  static defaults = { dataElementType: 'mapcell' };

  update(mode) {
    const meta = this._cachedMeta;
    this.updateElements(meta.data, 0, meta.data.length, mode);
  }

  updateElements(elements, start, count) {
    const { xScale, yScale } = this._cachedMeta;
    const points = this.getDataset().data;
    const kind = this.getDataset().kind;
    for (let i = start; i < start + count; i++) {
      const p = points[i];
      Object.assign(elements[i], {
        kind, raw: p,
        left: xScale.getPixelForValue(p.x), right: xScale.getPixelForValue(p.x2),
        top: yScale.getPixelForValue(p.y), bottom: yScale.getPixelForValue(p.y2),
      });
    }
  }
}

Chart.register(MapController, MapCell);

new Chart(document.getElementById('map'), {
  type: 'treemap',
  data: {
    datasets: [
      { label: 'Titles', kind: 'title', data: titlePoints, parsing: false, clip: false, order: 0 },
      { label: 'Groups', kind: 'header', data: headerPoints, parsing: false, clip: false, order: 1 },
      { label: 'ETFs', kind: 'cell', data: cellPoints, parsing: false, clip: false, order: 2 },
    ]
  },
  options: {
    responsive: false,
    animation: false,
    events: [],
    devicePixelRatio: 1,
    layout: { padding: 0 },
    plugins: { legend: { display: false }, tooltip: { enabled: false } },
    scales: {
      x: { type: 'linear', min: 0, max: 2083, display: false },
      y: { type: 'linear', min: 0, max: 1217, reverse: true, display: false },
    }
  }
});

// ---- colour scale under the map ----
const scaleBox = document.getElementById('scale');
scaleLabels.forEach((label, i) => {
  const d = document.createElement('div');
  d.textContent = label;
  d.style.background = scaleColors[i];
  scaleBox.appendChild(d);
});
</script>
</body>
</html>
